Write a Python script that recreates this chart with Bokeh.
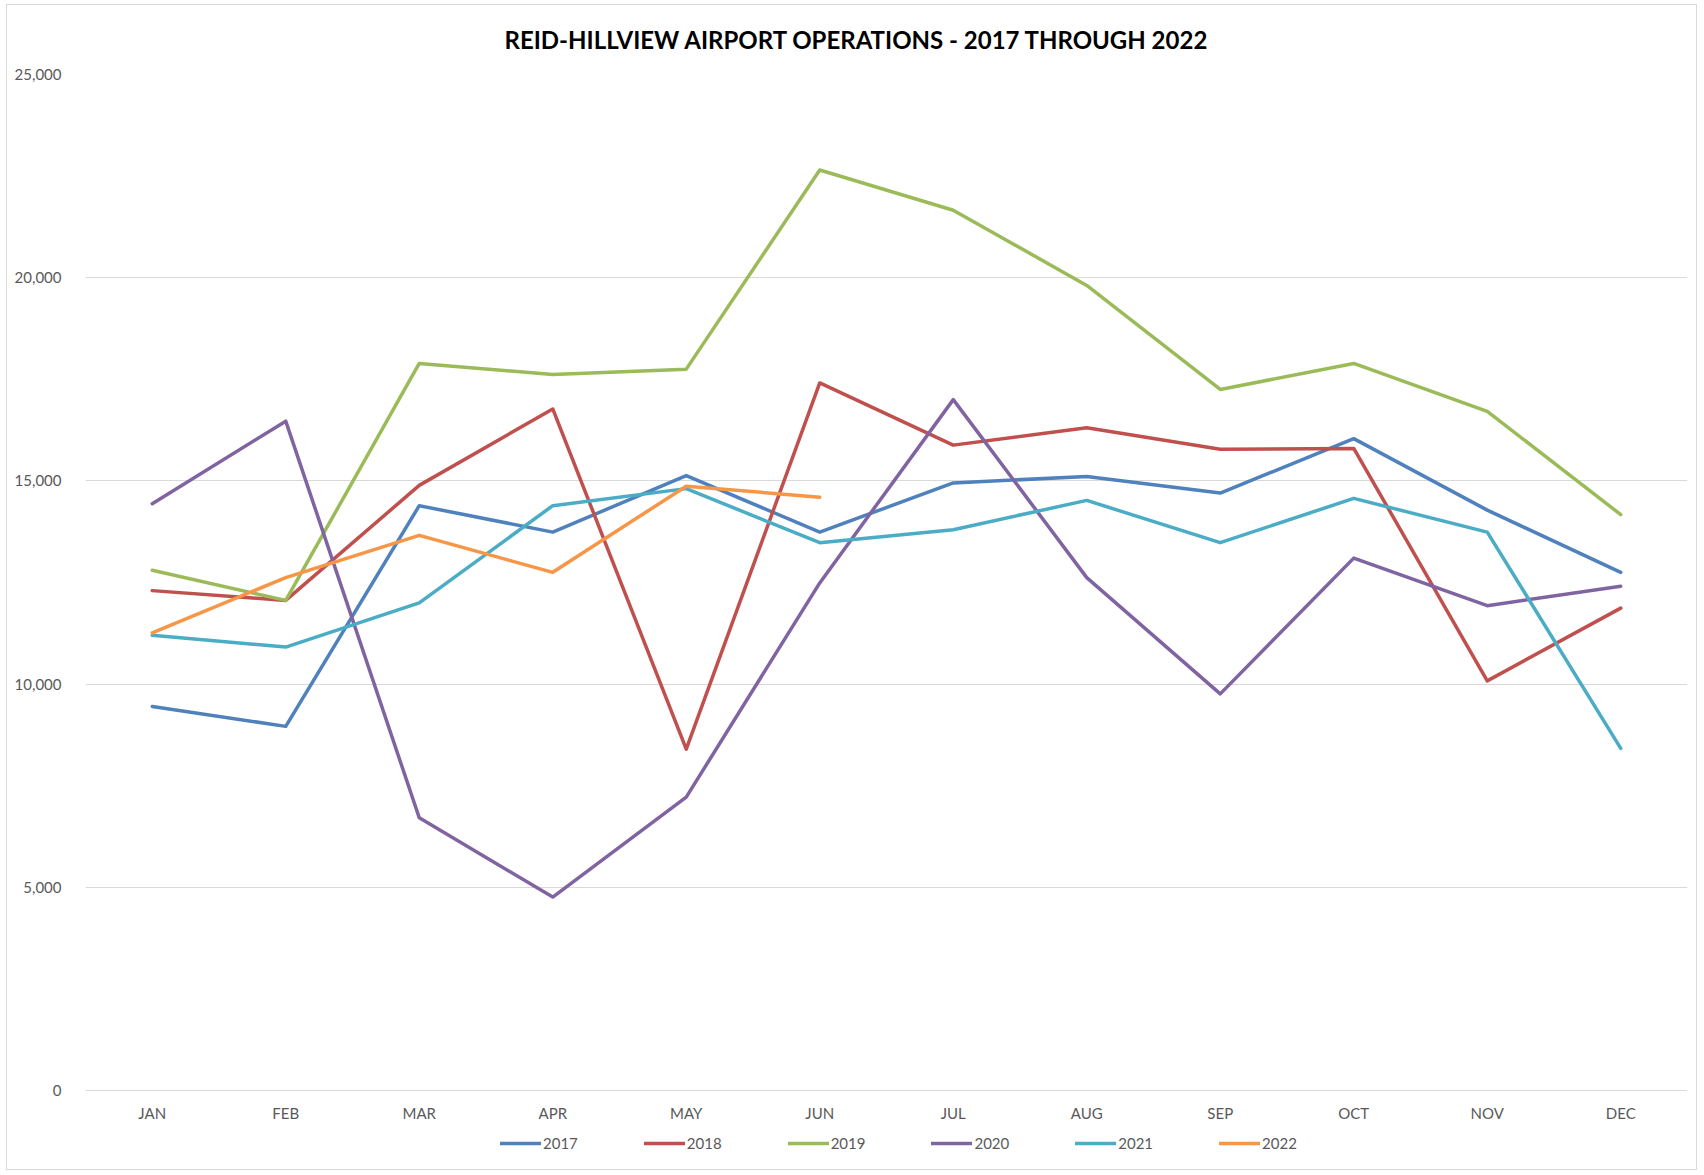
from bokeh.plotting import figure
from bokeh.models import Legend, LegendItem, FixedTicker, NumeralTickFormatter, Title, Range1d, ColumnDataSource
from bokeh.core.properties import value
from bokeh.embed import file_html
from bokeh.resources import INLINE

months = ["JAN", "FEB", "MAR", "APR", "MAY", "JUN", "JUL", "AUG", "SEP", "OCT", "NOV", "DEC"]
y2017 = [9450, 8960, 14390, 13740, 15130, 13740, 14950, 15110, 14700, 16040, 14280, 12750]
y2018 = [12300, 12060, 14890, 16770, 8400, 17410, 15880, 16310, 15780, 15800, 10080, 11870]
y2019 = [12800, 12060, 17890, 17620, 17750, 22650, 21660, 19810, 17250, 17890, 16710, 14170]
y2020 = [14440, 16470, 6710, 4760, 7220, 12490, 17000, 12620, 9760, 13100, 11930, 12410]
y2021 = [11200, 10910, 12000, 14390, 14810, 13480, 13800, 14520, 13480, 14570, 13740, 8420]
y2022 = [11260, 12620, 13660, 12750, 14870, 14600]
series_names = ["2017", "2018", "2019", "2020", "2021", "2022"]
colors = ["#4F81BD", "#C0504D", "#9BBB59", "#8064A2", "#4BACC6", "#F79646"]
y_ticks = [0, 5000, 10000, 15000, 20000, 25000]
title_text = "REID-HILLVIEW AIRPORT OPERATIONS - 2017 THROUGH 2022"

FONT = "Lato"

# layout in pixels
PLOT_H = 1016          # height of the 0..25000 value area
EXTRA_BELOW = 77       # room under the 0 line for month labels and legend
per_px = (y_ticks[-1] - y_ticks[0]) / PLOT_H
y_start = -EXTRA_BELOW * per_px
month_label_y = -22 * per_px

p = figure(frame_width=1602, frame_height=PLOT_H + EXTRA_BELOW, output_backend="svg",
           toolbar_location=None,
           x_range=Range1d(-0.5, 11.5), y_range=Range1d(y_start, y_ticks[-1]),
           min_border_left=78, min_border_right=9, min_border_top=69, min_border_bottom=2)
p.styles = {"border": "1px solid #d9d9d9", "margin-left": "6px", "margin-top": "4px"}
p.outline_line_color = None
p.background_fill_color = "white"
p.border_fill_color = "white"

p.title = Title(text=title_text, align="left", offset=419, standoff=38, vertical_align="top",
                text_font=FONT, text_font_style="bold", text_font_size="24px",
                text_color="#000000")

# y axis
p.yaxis.ticker = FixedTicker(ticks=y_ticks)
p.yaxis.formatter = NumeralTickFormatter(format="0,0")
p.yaxis.axis_line_color = None
p.yaxis.major_tick_line_color = None
p.yaxis.minor_tick_line_color = None
p.yaxis.major_label_text_font = FONT
p.yaxis.major_label_text_font_size = "15px"
p.yaxis.major_label_text_color = "#595959"
p.yaxis.major_label_standoff = 18

# x axis: month labels drawn under the 0 line
p.xaxis.visible = False
month_src = ColumnDataSource(dict(x=list(range(len(months))), y=[month_label_y] * len(months),
                                  text=months))
p.text(x="x", y="y", text="text", source=month_src, text_align="center",
       text_baseline="middle", text_font=value(FONT), text_font_size="15px",
       text_color="#595959")

p.xgrid.grid_line_color = None
p.ygrid.ticker = FixedTicker(ticks=y_ticks)
p.ygrid.grid_line_color = "#d9d9d9"
p.ygrid.grid_line_width = 1

all_series = [y2017, y2018, y2019, y2020, y2021, y2022]
items = []
for name, vals, col in zip(series_names, all_series, colors):
    r = p.line(x=list(range(len(vals))), y=vals, line_color=col, line_width=3.5,
               line_join="round", line_cap="round")
    items.append(LegendItem(label=name, renderers=[r]))

legend = Legend(items=items, orientation="horizontal", location=(415, 14),
                glyph_width=41, glyph_height=20, label_standoff=2, spacing=66,
                label_text_font=FONT, label_text_font_size="15px", label_text_color="#595959",
                border_line_color=None, background_fill_alpha=0, margin=0, padding=8)
p.add_layout(legend, "center")

open("out.html", "w").write(file_html(p, INLINE))
